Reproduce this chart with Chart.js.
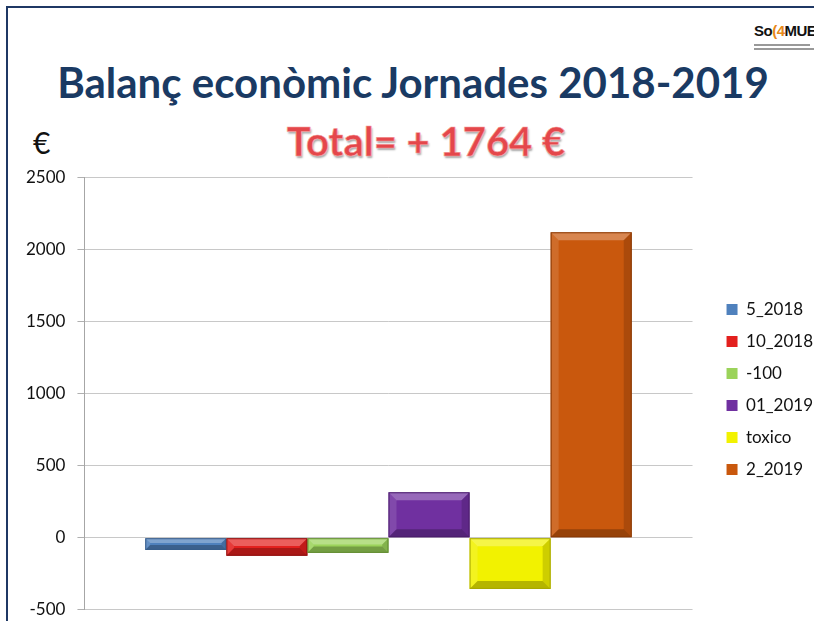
<!DOCTYPE html>
<html>
<head>
<meta charset="utf-8">
<script src="https://cdn.jsdelivr.net/npm/chart.js@4.4.1/dist/chart.umd.min.js"></script>
<style>
  html, body { margin: 0; padding: 0; background: #fff; }
  body { width: 814px; height: 621px; position: relative; overflow: hidden; font-family: Lato, 'Open Sans', sans-serif; }
  .frameTop { position: absolute; left: 6px; top: 6px; width: 820px; height: 2px; background: #1f3864; }
  .frameLeft { position: absolute; left: 6px; top: 6px; width: 2px; height: 620px; background: #1f3864; }
  #title { position: absolute; left: 0; width: 826px; top: 57px; text-align: center; font-weight: 700; font-size: 42px; color: #1a3a63; white-space: nowrap; }
  #total { position: absolute; left: 0; width: 852px; top: 117px; text-align: center; font-weight: 700; font-size: 40px; color: #e4474b;
           text-shadow: 0 0 1px #fff, 1px 2px 2px rgba(0,0,0,.35); -webkit-text-stroke: 0.6px #f6a0a0; white-space: nowrap; }
  #euro { position: absolute; left: 33px; top: 124px; font-size: 30px; color: #111; }
  #logo { position: absolute; left: 754px; top: 22px; width: 60px; height: 45px; }
  #logo .main { font-family: 'Liberation Sans', sans-serif; font-weight: 700; font-size: 15px; letter-spacing: -0.5px; color: #111; }
  #logo .main span { color: #e8891a; }
  #logo .sub { width: 56px; height: 2px; background: #999; margin-top: 5px; }
  #wrap { position: absolute; left: 0; top: 155px; width: 823px; height: 477px; }
</style>
</head>
<body>
<div class="frameTop"></div>
<div class="frameLeft"></div>
<div id="logo"><div class="main">So<span>(4</span>MUE</div><div class="sub"></div><div class="sub" style="margin-top:2px;width:60px"></div></div>
<div id="title">Balanç econòmic Jornades 2018-2019</div>
<div id="total">Total= + 1764 €</div>
<div id="euro">€</div>
<div id="wrap"><canvas id="chart"></canvas></div>
<script>
// ====== Datos ======
const jornadas = ['5_2018', '10_2018', '-100', '01_2019', 'toxico', '2_2019'];
const balance  = [-85, -125, -105, 315, -355, 2118];
const yTicks   = [-500, 0, 500, 1000, 1500, 2000, 2500];

const colores = ['#4f81bd', '#e3201e', '#9bd35a', '#7030a0', '#f2f200', '#c9580d'];
const bordes  = ['#385d8a', '#8e1010', '#5f8a2e', '#4a1d6c', '#a8a800', '#8a3a06'];

// bisel tipo Office sobre cada barra
const bevel = {
  id: 'bevel',
  afterLayout(chart) {
    // subir un poco la leyenda
    chart.legend.top -= 5;
    chart.legend.bottom -= 5;
  },
  afterDatasetsDraw(chart) {
    const ctx = chart.ctx;
    chart.data.datasets.forEach((ds, i) => {
      chart.getDatasetMeta(i).data.forEach(bar => {
        const { x, y, base, width } = bar.getProps(['x', 'y', 'base', 'width'], true);
        const l = x - width / 2, r = x + width / 2;
        const t = Math.min(y, base), b = Math.max(y, base);
        const h = b - t;
        const d = Math.min(8, h / 2 - 1, width / 2);
        if (d <= 0) return;
        ctx.save();
        // arriba claro
        ctx.fillStyle = 'rgba(255,255,255,0.28)';
        ctx.beginPath(); ctx.moveTo(l, t); ctx.lineTo(r, t); ctx.lineTo(r - d, t + d); ctx.lineTo(l + d, t + d); ctx.fill();
        // izquierda
        ctx.fillStyle = 'rgba(255,255,255,0.12)';
        ctx.beginPath(); ctx.moveTo(l, t); ctx.lineTo(l + d, t + d); ctx.lineTo(l + d, b - d); ctx.lineTo(l, b); ctx.fill();
        // abajo oscuro
        ctx.fillStyle = 'rgba(0,0,0,0.25)';
        ctx.beginPath(); ctx.moveTo(l, b); ctx.lineTo(l + d, b - d); ctx.lineTo(r - d, b - d); ctx.lineTo(r, b); ctx.fill();
        // derecha
        ctx.fillStyle = 'rgba(0,0,0,0.15)';
        ctx.beginPath(); ctx.moveTo(r, t); ctx.lineTo(r, b); ctx.lineTo(r - d, b - d); ctx.lineTo(r - d, t + d); ctx.fill();
        ctx.strokeStyle = bordes[i];
        ctx.lineWidth = 1;
        ctx.strokeRect(l + 0.5, t + 0.5, width - 1, h - 1);
        ctx.restore();
      });
    });
  }
};

new Chart(document.getElementById('chart'), {
  type: 'bar',
  data: {
    labels: [''],
    datasets: jornadas.map((name, i) => ({
      label: name,
      data: [balance[i]],
      backgroundColor: colores[i],
      borderColor: bordes[i],
      borderWidth: 0,
      categoryPercentage: 0.8,
      barPercentage: 1.0
    }))
  },
  options: {
    responsive: true,
    maintainAspectRatio: false,
    animation: false,
    layout: { padding: { left: 14, right: 0, top: 3, bottom: 1 } },
    plugins: {
      legend: {
        position: 'right',
        labels: {
          boxWidth: 11, boxHeight: 11, padding: 15,
          color: '#111',
          font: { family: 'Lato, "Open Sans", sans-serif', size: 17 }
        }
      },
      tooltip: { enabled: false }
    },
    scales: {
      x: {
        display: false,
        grid: { display: false }
      },
      y: {
        min: -500, max: 2500,
        afterBuildTicks: (axis) => { axis.ticks = yTicks.map(v => ({ value: v })); },
        grid: { color: '#c8c8c8', tickLength: 7, tickColor: '#b0b0b0' },
        border: { color: '#a6a6a6' },
        ticks: {
          padding: 12,
          color: '#111',
          font: { family: 'Lato, "Open Sans", sans-serif', size: 17 },
          callback: (v) => String(v)
        }
      },
      // hueco entre el área y la leyenda
      yGap: {
        position: 'right',
        display: true,
        grid: { display: false },
        border: { display: false },
        ticks: { display: false },
        afterFit: (axis) => { axis.width = 19; }
      }
    }
  },
  plugins: [bevel]
});
</script>
</body>
</html>
